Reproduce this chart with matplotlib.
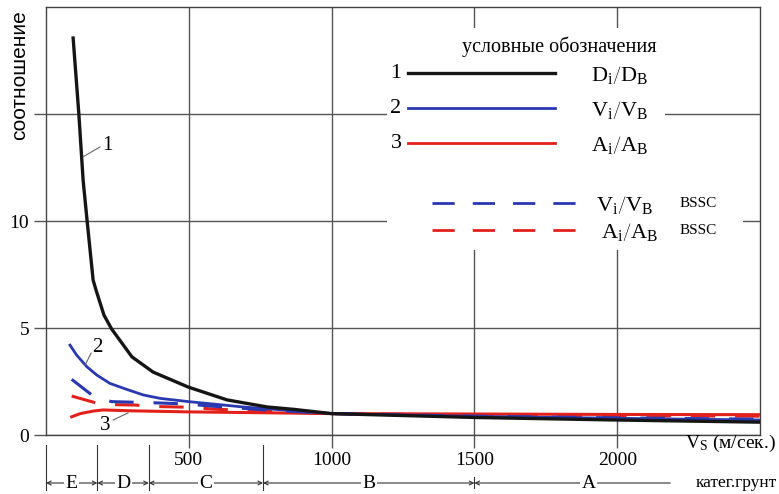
import matplotlib
matplotlib.use("Agg")
import matplotlib.pyplot as plt
from matplotlib.patches import Rectangle
from matplotlib.lines import Line2D

plt.rcParams['font.family'] = ['Liberation Serif', 'DejaVu Serif']
plt.rcParams['mathtext.fontset'] = 'custom'
plt.rcParams['mathtext.rm'] = 'Liberation Serif'
plt.rcParams['mathtext.it'] = 'Liberation Serif:italic'

# ---------------- data ----------------
vs_black = [95, 115, 130, 144, 165, 175, 203, 230, 301, 375, 498, 634, 774, 866, 1000, 1500, 2000, 2500]
d_ratio = [18.55, 15.0, 11.9, 10.0, 7.24, 6.78, 5.6, 4.95, 3.65, 2.94, 2.24, 1.64, 1.31, 1.2, 1.0, 0.82, 0.7, 0.6]

vs_blue = [84, 107, 143, 178, 224, 283, 341, 400, 499, 690, 1000, 1500, 2000, 2500]
v_ratio = [4.2, 3.74, 3.19, 2.8, 2.41, 2.13, 1.87, 1.71, 1.56, 1.31, 1.0, 0.87, 0.78, 0.7]

vs_red = [90, 120, 166, 200, 300, 500, 760, 1000, 1500, 2000, 2500]
a_ratio = [0.85, 1.0, 1.12, 1.17, 1.13, 1.08, 1.04, 1.0, 0.98, 0.96, 0.95]

vs_bssc = [90, 175, 230, 310, 390, 490, 600, 760, 1000, 1500, 2000, 2500]
v_bssc = [2.6, 1.72, 1.56, 1.53, 1.5, 1.45, 1.33, 1.18, 1.0, 0.88, 0.8, 0.74]
a_bssc = [1.82, 1.5, 1.42, 1.4, 1.33, 1.3, 1.2, 1.12, 1.0, 0.93, 0.9, 0.88]

x_ticks = [500, 1000, 1500, 2000]
y_ticks = [0, 5, 10, 15]
y_tick_labels = ['0', '5', '10', '']

site_bounds = [0, 180, 360, 760, 1500]
site_labels = ['E', 'D', 'C', 'B', 'A']
site_end = 2186

legend_labels = [r'$\mathrm{D_i}\left/\mathrm{D_B}\right.$',
                 r'$\mathrm{V_i}\left/\mathrm{V_B}\right.$',
                 r'$\mathrm{A_i}\left/\mathrm{A_B}\right.$']
legend_bssc = [r'$\mathrm{V_i}\left/\mathrm{V_B}\right.$',
               r'$\mathrm{A_i}\left/\mathrm{A_B}\right.$']

BLACK = '#151515'
BLUE = '#2b39b0'
RED = '#e3211c'
GRID = '#555555'

W, H = 779, 494
fig = plt.figure(figsize=(W / 100, H / 100), dpi=100)
ax = fig.add_axes([46 / W, 1 - 435 / H, (760 - 46) / W, (435 - 7) / H])
ax.set_xlim(0, 2500)
ax.set_ylim(0, 20)
ax.set_axisbelow(True)
ax.grid(True, color=GRID, lw=1)
ax.set_xticks(x_ticks)
ax.set_yticks(y_ticks)
ax.set_yticklabels(y_tick_labels)
ax.tick_params(direction='out', length=9, color=GRID, width=1, labelsize=14, pad=3)
for s in ax.spines.values():
    s.set_color('#444444')
    s.set_linewidth(1)

# white background behind legend
ax.add_patch(Rectangle((1195, 8.64), 2169 - 1195, 19.0 - 8.64, fc='white', ec='none', zorder=1))
ax.add_patch(Rectangle((1906, 8.64), 2440 - 1906, 11.45 - 8.64, fc='white', ec='none', zorder=1))

# curves
ax.plot(vs_red, a_ratio, color=RED, lw=2.2, zorder=3)
ax.plot(vs_bssc, a_bssc, color=RED, lw=2.2, dashes=(8, 6.5), zorder=3)
ax.plot(vs_bssc, v_bssc, color=BLUE, lw=2.2, dashes=(8, 6.5), zorder=3)
ax.plot(vs_blue, v_ratio, color=BLUE, lw=2, zorder=4)
ax.plot(vs_black, d_ratio, color=BLACK, lw=2.4, zorder=5)

# curve labels
lead = dict(color='#666666', lw=0.8, zorder=6)
ax.plot([130, 189], [13.0, 13.46], **lead)
ax.text(214, 13.55, '1', ha='center', va='center', fontsize=15)
ax.plot([137, 158], [3.27, 3.83], **lead)
ax.text(181, 4.07, '2', ha='center', va='center', fontsize=15)
ax.plot([235, 287], [0.7, 1.03], **lead)
ax.text(207, 0.45, '3', ha='center', va='center', fontsize=15)

# legend (figure pixels)
def fx(px):
    return px / W

def fy(py):
    return 1 - py / H

fig.text(fx(559), fy(47), 'условные обозначения', ha='center', va='center', fontsize=14.5)
rows_y = [73, 108, 143]
colors = [BLACK, BLUE, RED]
for i, (yy, c, lab) in enumerate(zip(rows_y, colors, legend_labels)):
    fig.text(fx(396), fy(yy), str(i + 1), ha='center', va='center', fontsize=16)
    fig.add_artist(Line2D([fx(408), fx(555)], [fy(yy), fy(yy)], color=c, lw=2.4 if i == 0 else 2))
    fig.text(fx(620), fy(yy + 2), lab, ha='center', va='center', fontsize=16)

for yy, c, lab, xc in zip([203, 230], [BLUE, RED], legend_bssc, [625, 630]):
    fig.add_artist(Line2D([fx(432), fx(578)], [fy(yy), fy(yy)], color=c, lw=2, dashes=(8, 6.5)))
    fig.text(fx(xc), fy(yy + 2), lab, ha='center', va='center', fontsize=16)
    fig.text(fx(680), fy(yy), 'BSSC', ha='left', va='center', fontsize=11)

# y label
fig.text(fx(20), fy(75), 'соотношение', rotation=90, ha='center', va='center',
         fontsize=15, family=['Liberation Sans', 'DejaVu Sans'])

# x label
fig.text(fx(685), fy(443), r'$\mathrm{V_S}$ (м/сек.)', ha='left', va='center', fontsize=14)

# site categories
trans = ax.get_xaxis_transform()
yline = -(483 - 435) / 428
for b in site_bounds:
    if b == 1500:
        ax.plot([b, b], [-(477 - 435) / 428, -(488 - 435) / 428], color='#333333', lw=0.8,
                transform=trans, clip_on=False)
    else:
        ax.plot([b, b], [-(445 - 435) / 428, -(490 - 435) / 428], color='#333333', lw=0.8,
                transform=trans, clip_on=False)
ends = site_bounds + [site_end]
for i in range(len(site_labels)):
    b0, b1 = ends[i], ends[i + 1]
    if i < len(site_labels) - 1:
        ax.annotate('', xy=(b1, yline), xytext=(b0, yline), xycoords=trans, textcoords=trans,
                    annotation_clip=False,
                    arrowprops=dict(arrowstyle='<->', lw=0.8, color='#333333',
                                    shrinkA=0, shrinkB=0, mutation_scale=7))
        xm = (b0 + b1) / 2
    else:
        ax.annotate('', xy=(b0, yline), xytext=(b1, yline), xycoords=trans, textcoords=trans,
                    annotation_clip=False,
                    arrowprops=dict(arrowstyle='->', lw=0.8, color='#333333',
                                    shrinkA=0, shrinkB=0, mutation_scale=7))
        xm = 1900
    ax.text(xm, yline, site_labels[i], ha='center', va='center', fontsize=14, transform=trans,
            bbox=dict(fc='white', ec='none', pad=1), clip_on=False, zorder=7)
fig.text(fx(696), fy(483), 'катег.грунт', ha='left', va='center', fontsize=12.5)

fig.savefig('out.png', dpi=100)
